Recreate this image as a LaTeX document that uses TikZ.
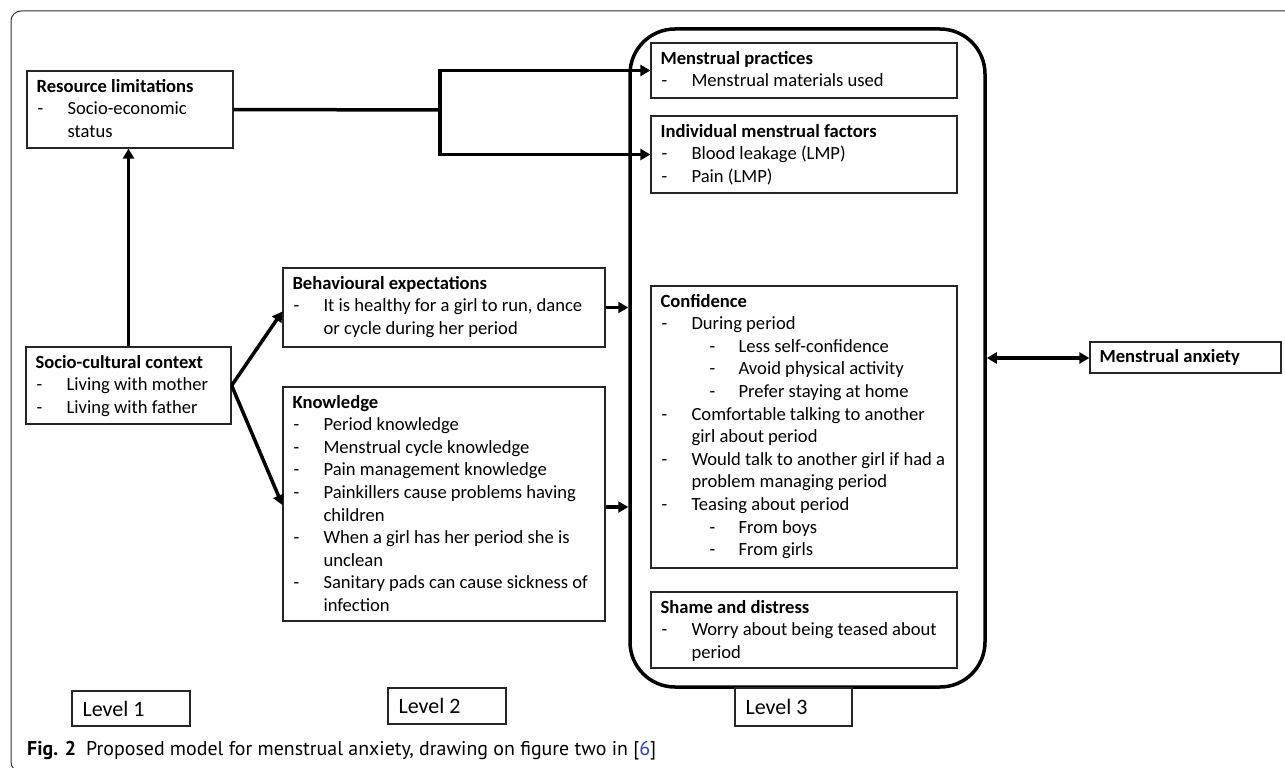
\documentclass[tikz,border=0pt]{standalone}
\usepackage{fontspec}
\setmainfont{Carlito}
\newfontfamily\capfont{PT Sans}
\usetikzlibrary{arrows.meta,fit}
\definecolor{linkblue}{RGB}{45,60,220}
\newcommand\hd[1]{\rule{0pt}{15pt}\textbf{#1}}
\newcommand\ia[1]{\hspace*{1pt}\makebox[30pt][l]{-}#1}
\newcommand\ic[1]{\hspace*{31pt}#1}
\newcommand\ib[1]{\hspace*{49pt}\makebox[29pt][l]{-}#1}
\begin{document}
\begin{tikzpicture}[x=1pt,y=-1pt,
  box/.style={draw=black!85, line width=1.3pt, inner sep=0pt},
  txt/.style={anchor=north west, inner sep=0pt, align=left, font=\fontsize{18.6}{22.6}\selectfont},
  lvl/.style={anchor=west, inner sep=0pt, font=\fontsize{22}{26}\selectfont},
  conn/.style={line width=3.5pt},
  arr/.style={conn, -{Triangle[length=10pt,width=11pt]}},
  darr/.style={conn, {Triangle[length=10pt,width=11pt]}-{Triangle[length=10pt,width=11pt]}}]
\useasboundingbox (0,0) rectangle (1285,768);
\begin{scope}
\clip (0,0) rectangle (1285,768);
\draw[line width=1pt, black!80, rounded corners=10pt] (11,11) rectangle (1300,772);
\end{scope}

% Level 3 container
\node[draw, line width=3.5pt, rounded corners=45pt, inner sep=0pt, fit={(630,29) (985,687)}] (big) {};

% boxes
\node[box, fit={(27,71) (233,148)}] (res) {};
\node[box, fit={(26,347) (231,424)}] (soc) {};
\node[box, fit={(283,268) (605,347)}] (beh) {};
\node[box, fit={(283,387) (605,621)}] (knw) {};
\node[box, fit={(651,43) (957,98)}] (prac) {};
\node[box, fit={(651,116) (957,193)}] (ind) {};
\node[box, fit={(651,286) (957,568)}] (conf) {};
\node[box, fit={(651,592) (957,668)}] (sham) {};
\node[box, fit={(1090,342) (1281,373)}] (anx) {};
\node[box, fit={(72,691) (190,726)}] (l1) {};
\node[box, fit={(388,688) (506,724)}] (l2) {};
\node[box, fit={(735,688) (852,726)}] (l3) {};

% texts
\node[txt] (res-t) at ([xshift=10pt,yshift=-6.5pt]res.north west) {\hd{Resource limitations}\\ \ia{Socio-economic}\\ \ic{status}};
\node[txt] (soc-t) at ([xshift=10pt,yshift=-6.5pt]soc.north west) {\hd{Socio-cultural context}\\ \ia{Living with mother}\\ \ia{Living with father}};
\node[txt] (beh-t) at ([xshift=10pt,yshift=-6.5pt]beh.north west) {\hd{Behavioural expectations}\\ \ia{It is healthy for a girl to run, dance}\\ \ic{or cycle during her period}};
\node[txt] (knw-t) at ([xshift=10pt,yshift=-6.5pt]knw.north west) {\hd{Knowledge}\\ \ia{Period knowledge}\\ \ia{Menstrual cycle knowledge}\\ \ia{Pain management knowledge}\\ \ia{Painkillers cause problems having}\\ \ic{children}\\ \ia{When a girl has her period she is}\\ \ic{unclean}\\ \ia{Sanitary pads can cause sickness of}\\ \ic{infection}};
\node[txt] (prac-t) at ([xshift=10pt,yshift=-6.5pt]prac.north west) {\hd{Menstrual practices}\\ \ia{Menstrual materials used}};
\node[txt] (ind-t) at ([xshift=10pt,yshift=-6.5pt]ind.north west) {\hd{Individual menstrual factors}\\ \ia{Blood leakage (LMP)}\\ \ia{Pain (LMP)}};
\node[txt] (conf-t) at ([xshift=10pt,yshift=-6.5pt]conf.north west) {\hd{Confidence}\\ \ia{During period}\\ \ib{Less self-confidence}\\ \ib{Avoid physical activity}\\ \ib{Prefer staying at home}\\ \ia{Comfortable talking to another}\\ \ic{girl about period}\\ \ia{Would talk to another girl if had a}\\ \ic{problem managing period}\\ \ia{Teasing about period}\\ \ib{From boys}\\ \ib{From girls}};
\node[txt] (sham-t) at ([xshift=10pt,yshift=-6.5pt]sham.north west) {\hd{Shame and distress}\\ \ia{Worry about being teased about}\\ \ic{period}};
\node[txt] (anx-t) at ([xshift=10pt,yshift=-6pt]anx.north west) {\hd{Menstrual anxiety}};
\node[lvl] (l1-t) at ([xshift=11pt]l1.west) {Level 1};
\node[lvl] (l2-t) at ([xshift=11pt]l2.west) {Level 2};
\node[lvl] (l3-t) at ([xshift=11pt]l3.west) {Level 3};

% connectors
\coordinate (jn) at (440,110);
\draw[conn] (res.east) -- (jn);
\draw[arr] (jn) |- (prac.west);
\draw[arr] (jn) |- (ind.west);
\draw[arr] (soc.north) -- (soc.north |- res.south);
\draw[arr] (soc.east) -- ([yshift=-4pt]beh.west);
\draw[arr] (soc.east) -- ([yshift=-1pt]knw.west);
\draw[arr] (beh.east) -- (beh.east -| big.west);
\draw[arr] ([yshift=-3pt]knw.east) -- ([yshift=-3pt]knw.east -| big.west);
\draw[darr] (big.east) -- (big.east -| anx.west);

% caption
\node[anchor=base west, inner sep=0pt, font=\capfont\fontsize{19.9}{22}\selectfont] (cap) at (27,755) {\textbf{Fig. 2}\hspace{10pt}Proposed model for menstrual anxiety, drawing on figure two in [\textcolor{linkblue}{6}]};
\end{tikzpicture}
\end{document}
